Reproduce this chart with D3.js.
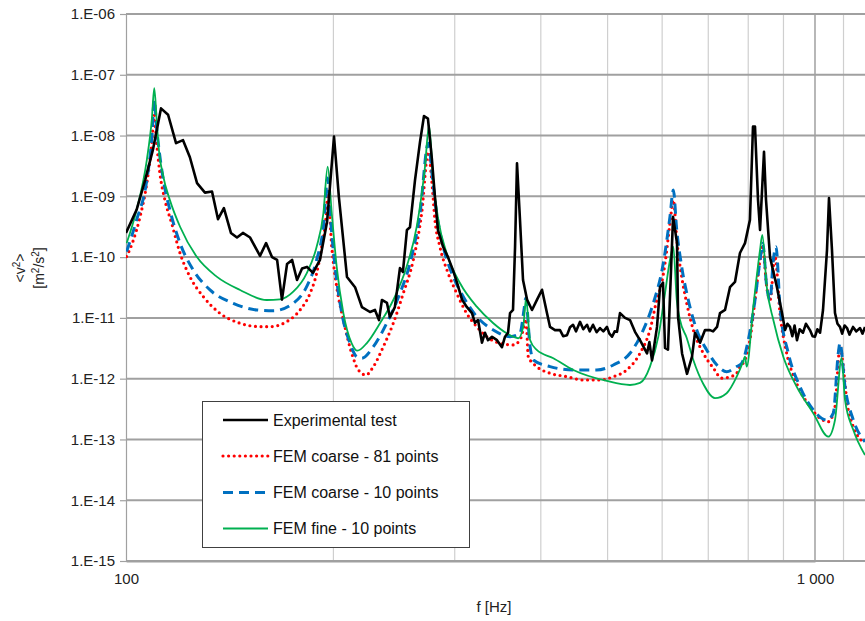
<!DOCTYPE html>
<html>
<head>
<meta charset="utf-8">
<script src="https://cdn.jsdelivr.net/npm/d3@7/dist/d3.min.js"></script>
<style>
  html, body { margin: 0; padding: 0; background: #fff; }
  svg { display: block; font-family: "Liberation Sans", Arial, sans-serif; }
</style>
</head>
<body>
<svg id="chart" width="865" height="621"></svg>
<script>
// Frequency response of the mean square velocity <v²> — measurement vs. FEM models

// Experimental test
const expFreq = [100, 103.6, 106.6, 109.4, 112.4, 115.1, 118.2, 121.0, 123.8, 126.8, 130.2, 133.3, 136.0, 138.7, 142.0, 144.9, 147.8, 151.4, 156.5, 159.7, 162.9, 165.7, 168.4, 171.3, 174.2, 177.1, 180.1, 183.1, 186.8, 191.2, 195.8, 200.4, 203.7, 209.3, 215.0, 220.0, 226.0, 229.8, 232.9, 235.2, 239.2, 241.6, 245.6, 249.8, 252.3, 255.7, 258.3, 262.7, 267.1, 270.7, 274.3, 278.0, 280.8, 283.6, 288.4, 293.3, 298.2, 302.3, 307.4, 312.5, 317.8, 321.0, 324.3, 328.6, 331.9, 335.3, 339.8, 345.5, 351.3, 354.9, 358.5, 360.9, 364.5, 367.0, 369.4, 373.1, 376.9, 382.0, 388.4, 395.0, 401.6, 408.3, 412.5, 419.4, 426.5, 431, 436.6, 441, 445.5, 450, 456.0, 461, 466.8, 471, 476.2, 482, 487.5, 493, 499.0, 503, 507.5, 512, 516.0, 521.2, 530.0, 538.9, 548.0, 557.2, 570.4, 575, 580.0, 589.8, 595.7, 601.7, 605.8, 611.8, 620.2, 622.3, 630.6, 632.8, 641.3, 652.0, 663.0, 669.7, 681.0, 692.4, 704.1, 711.3, 720.8, 728.0, 740.3, 752.7, 765.4, 778.2, 791.4, 804.6, 812.8, 818.3, 826.6, 832.2, 843.3, 849.0, 860.4, 880.6, 895.6, 904.7, 912, 919.8, 927, 934, 941.6, 950, 960.7, 970, 983.3, 992, 1000, 1008, 1017, 1027.1, 1040.9, 1047.9, 1058.4, 1069.1, 1078, 1087.1, 1095, 1104, 1113, 1122, 1135.5, 1148, 1162.4, 1172, 1182];
const expVal = [2.5e-10, 6.0e-10, 1.85e-9, 5.8e-9, 2.8e-8, 2.2e-8, 7.5e-9, 8.4e-9, 4.4e-9, 1.65e-9, 1.15e-9, 1.2e-9, 4.2e-10, 6.4e-10, 2.5e-10, 2.1e-10, 2.5e-10, 2.1e-10, 1.05e-10, 1.7e-10, 1.0e-10, 9.0e-11, 2.0e-11, 7.7e-11, 9.0e-11, 4.2e-11, 6.5e-11, 6.9e-11, 5.5e-11, 9.0e-11, 3.8e-10, 9.6e-9, 9.7e-10, 4.7e-11, 3.2e-11, 1.5e-11, 1.25e-11, 1.35e-11, 9.2e-12, 1.97e-11, 1.76e-11, 1.03e-11, 1.5e-11, 6.6e-11, 5.7e-11, 2.8e-10, 3.1e-10, 1.85e-9, 7.8e-9, 2.1e-8, 1.9e-8, 4.0e-9, 9.7e-10, 2.8e-10, 1.5e-10, 1.0e-10, 6.1e-11, 3.8e-11, 2.0e-11, 1.5e-11, 1.2e-11, 8.3e-12, 9.2e-12, 3.9e-12, 5.7e-12, 4.3e-12, 4.9e-12, 4.3e-12, 3.3e-12, 4.9e-12, 5.7e-12, 1.2e-11, 1.35e-11, 1.47e-10, 3.5e-9, 4.1e-10, 4.2e-11, 2.0e-11, 1.35e-11, 2.0e-11, 2.9e-11, 1.2e-11, 7.1e-12, 6.3e-12, 6.3e-12, 5.0e-12, 5.2e-12, 7.0e-12, 7.7e-12, 6.0e-12, 8.6e-12, 6.5e-12, 7.7e-12, 6.0e-12, 7.7e-12, 5.8e-12, 6.8e-12, 6.0e-12, 7.1e-12, 5.5e-12, 4.9e-12, 6.0e-12, 5.9e-12, 1.2e-11, 1.0e-11, 9.2e-12, 5.9e-12, 4.3e-12, 2.6e-12, 4.0e-12, 2.0e-12, 7.1e-12, 3.2e-11, 3.8e-11, 3.2e-12, 3.0e-12, 1.7e-10, 4.6e-10, 1.7e-10, 1.03e-11, 2.6e-12, 1.2e-12, 2.3e-12, 5.7e-12, 3.9e-12, 6.3e-12, 6.3e-12, 6.0e-12, 7.1e-12, 1.2e-11, 1.35e-11, 3.2e-11, 3.9e-11, 1.17e-10, 1.7e-10, 4.1e-10, 1.4e-8, 1.4e-8, 8.7e-10, 2.8e-10, 5.4e-9, 8.7e-10, 1.0e-10, 3.2e-11, 1.2e-11, 6.3e-12, 8.0e-12, 7.1e-12, 5.0e-12, 7.5e-12, 4.3e-12, 6.5e-12, 5.7e-12, 8.0e-12, 6.3e-12, 5.0e-12, 4.9e-12, 6.5e-12, 5.7e-12, 1.35e-11, 1.3e-10, 9.4e-10, 1.3e-10, 1.2e-11, 8.0e-12, 7.1e-12, 5.5e-12, 7.5e-12, 6.8e-12, 5.3e-12, 7.1e-12, 6.0e-12, 6.8e-12, 5.5e-12, 7.1e-12];

// FEM coarse - 81 points
const coarse81Freq = [100.2, 102.5, 104.8, 107.2, 109.0, 109.9, 110.8, 112.0, 113.9, 116.5, 119.8, 123.8, 129.5, 136.9, 146.4, 156.5, 161.8, 171.1, 178.9, 185.0, 189.1, 192.3, 195.6, 196.2, 198.9, 202.2, 206.8, 212.6, 217.4, 223.0, 228.6, 236.3, 244.3, 252.6, 261.2, 268.6, 274.6, 277.8, 280.8, 285.5, 293.5, 302.0, 312.2, 322.9, 333.8, 349.0, 364.8, 373.1, 378.1, 380.7, 383.6, 394.6, 412.5, 436.1, 461.0, 487.5, 509.7, 533.0, 557.2, 576.1, 589.3, 599.1, 605.8, 615.9, 622.8, 630.8, 640.5, 651.4, 665.9, 688.5, 711.8, 732.1, 752.7, 769.8, 778.2, 791.4, 804.6, 818.3, 832.2, 839.7, 851.0, 860.4, 874.9, 889.6, 909.7, 940.5, 983.3, 1017, 1045.5, 1069.1, 1087.1, 1099.1, 1111.9, 1136.6, 1181.9];
const coarse81Val = [1.02e-10, 1.91e-10, 4.6e-10, 1.64e-9, 7.45e-9, 2.18e-8, 7.45e-9, 2.39e-9, 8.66e-10, 3.6e-10, 1.16e-10, 4.77e-11, 2.23e-11, 1.19e-11, 8.17e-12, 7.18e-12, 7.18e-12, 8.67e-12, 1.35e-11, 2.54e-11, 5.42e-11, 1.48e-10, 6.75e-10, 1.25e-9, 1.48e-10, 3.27e-11, 9.24e-12, 2.62e-12, 1.39e-12, 1.15e-12, 1.58e-12, 3.36e-12, 8.17e-12, 2.54e-11, 8.97e-11, 5.26e-10, 5.42e-9, 1.85e-9, 4.08e-10, 1.48e-10, 5.42e-11, 2.54e-11, 1.19e-11, 7.18e-12, 4.91e-12, 3.82e-12, 3.59e-12, 4.33e-12, 7.18e-12, 9.5e-12, 2.30e-12, 1.58e-12, 1.23e-12, 1.08e-12, 9.5e-13, 9.5e-13, 1.08e-12, 1.39e-12, 2.62e-12, 6.33e-12, 1.97e-11, 3.75e-11, 7.9e-11, 3.6e-10, 8.66e-10, 1.69e-10, 4.77e-11, 1.74e-11, 6.33e-12, 2.62e-12, 1.5e-12, 1.02e-12, 1.07e-12, 1.23e-12, 1.58e-12, 2.03e-12, 4.33e-12, 1.97e-11, 8.97e-11, 1.48e-10, 3.27e-11, 1.97e-11, 1.02e-10, 1.19e-11, 2.62e-12, 8.42e-13, 3.46e-13, 2.23e-13, 1.96e-13, 3.46e-13, 3.36e-12, 1.58e-12, 4.46e-13, 1.62e-13, 8.64e-14];

// FEM coarse - 10 points
const coarse10Freq = [100.2, 103.6, 107.2, 109.0, 109.9, 110.8, 111.4, 113.3, 115.8, 119.8, 125.2, 132.4, 143.1, 154.8, 163.6, 174.9, 182.9, 189.1, 193.4, 196.2, 197.8, 201.1, 205.7, 211.4, 216.2, 219.8, 228.6, 239.0, 249.8, 258.3, 267.1, 274.6, 278.7, 282.4, 288.7, 298.5, 308.7, 322.9, 341.3, 360.9, 373.1, 378.1, 380.3, 385.9, 390.1, 412.5, 445.9, 482.2, 509.7, 538.9, 563.4, 582.5, 602.3, 615.9, 622.8, 630.0, 640.5, 654.8, 673.5, 696.3, 723.9, 744.3, 769.8, 782.7, 800.2, 818.3, 832.2, 839.7, 851.0, 860.4, 870.0, 877.8, 889.6, 914.7, 951.0, 994.3, 1039.9, 1063.0, 1080.9, 1087.1, 1105.4, 1136.6, 1181.9];
const coarse10Val = [1.23e-10, 4.08e-10, 1.85e-9, 9.1e-9, 3.85e-8, 1.33e-8, 7.45e-9, 1.85e-9, 5.96e-10, 1.69e-10, 6.14e-11, 2.88e-11, 1.74e-11, 1.35e-11, 1.31e-11, 1.74e-11, 3.27e-11, 8.97e-11, 3.16e-10, 2.0e-9, 5.26e-10, 6.95e-11, 1.19e-11, 3.82e-12, 2.30e-12, 2.17e-12, 3.36e-12, 8.17e-12, 2.54e-11, 7.9e-11, 5.26e-10, 7.45e-9, 1.85e-9, 5.26e-10, 1.48e-10, 4.77e-11, 2.23e-11, 1.05e-11, 6.33e-12, 4.91e-12, 5.58e-12, 1.35e-11, 2.10e-11, 3.36e-12, 2.03e-12, 1.58e-12, 1.39e-12, 1.39e-12, 1.68e-12, 2.62e-12, 6.33e-12, 1.74e-11, 7.9e-11, 4.62e-10, 1.27e-9, 2.79e-10, 6.95e-11, 1.97e-11, 6.33e-12, 2.97e-12, 1.58e-12, 1.30e-12, 1.58e-12, 1.79e-12, 4.33e-12, 1.97e-11, 8.97e-11, 1.69e-10, 3.27e-11, 1.97e-11, 8.97e-11, 1.48e-10, 1.53e-11, 2.62e-12, 7.4e-13, 3.06e-13, 2.09e-13, 2.70e-13, 2.62e-12, 3.86e-12, 7.4e-13, 2.09e-13, 9.17e-14];

// FEM fine - 10 points
const fineFreq = [100.2, 103.6, 107.2, 109.0, 109.9, 110.8, 111.4, 113.3, 115.8, 119.8, 126.6, 135.4, 146.4, 160.0, 167.3, 174.9, 182.9, 189.1, 193.4, 196.2, 198.9, 202.2, 206.8, 212.6, 216.7, 223.5, 233.7, 244.3, 255.4, 264.2, 271.6, 275.3, 279.2, 284.0, 292.0, 305.4, 322.9, 341.3, 356.9, 371.0, 377.2, 380.7, 385.9, 394.6, 417.1, 445.9, 498.6, 538.9, 557.2, 576.1, 592.4, 605.8, 615.9, 622.8, 630.0, 636.9, 651.4, 665.9, 688.5, 715.9, 744.3, 769.8, 786.1, 791.4, 795.9, 813.6, 832.2, 838.5, 851.0, 870.0, 899.5, 940.5, 994.3, 1045.5, 1069.1, 1093.2, 1105.4, 1136.6, 1181.9];
const fineVal = [1.69e-10, 5.96e-10, 3.96e-9, 1.81e-8, 6.0e-8, 1.81e-8, 7.45e-9, 2.10e-9, 8.66e-10, 3.16e-10, 1.02e-10, 4.77e-11, 2.88e-11, 1.97e-11, 2.02e-11, 2.70e-11, 5.42e-11, 1.48e-10, 5.26e-10, 3.09e-9, 5.26e-10, 6.95e-11, 1.19e-11, 3.82e-12, 2.89e-12, 3.82e-12, 8.17e-12, 1.97e-11, 6.95e-11, 3.16e-10, 3.07e-9, 1.47e-8, 1.85e-9, 4.08e-10, 1.16e-10, 3.71e-11, 1.53e-11, 8.17e-12, 5.58e-12, 4.62e-12, 7.18e-12, 2.10e-11, 4.33e-12, 2.97e-12, 2.17e-12, 1.39e-12, 9.17e-13, 7.87e-13, 8.5e-13, 1.58e-12, 4.91e-12, 2.54e-11, 8.97e-11, 1.48e-10, 1.97e-11, 9.24e-12, 4.68e-12, 2.03e-12, 8.17e-13, 4.77e-13, 5.76e-13, 1.08e-12, 1.88e-12, 2.30e-12, 1.58e-12, 1.53e-11, 1.31e-10, 2.31e-10, 3.27e-11, 9.24e-12, 2.30e-12, 7.4e-13, 2.70e-13, 1.11e-13, 2.09e-13, 2.19e-12, 4.46e-13, 1.43e-13, 5.55e-14];

// Axes
const yTickValues = [1e-6, 1e-7, 1e-8, 1e-9, 1e-10, 1e-11, 1e-12, 1e-13, 1e-14, 1e-15];
const yTickLabels = ["1.E-06", "1.E-07", "1.E-08", "1.E-09", "1.E-10", "1.E-11", "1.E-12", "1.E-13", "1.E-14", "1.E-15"];
const xGridValues = [200, 300, 400, 500, 600, 700, 800, 900, 1100, 1200];
const xTickValues = [100, 1000];
const xTickLabels = ["100", "1 000"];

const seriesNames = ["Experimental test", "FEM coarse - 81 points", "FEM coarse - 10 points", "FEM fine - 10 points"];

const svg = d3.select("#chart");
const W = 865, H = 621;
const plot = { left: 126, top: 14, right: 865, bottom: 561 };

const x = d3.scaleLog().domain([100, 1000]).range([plot.left, 815]);
const y = d3.scaleLog().domain([1e-15, 1e-6]).range([plot.bottom, plot.top]);

// clip region for the curves
svg.append("defs").append("clipPath").attr("id", "plotClip")
  .append("rect")
  .attr("x", plot.left).attr("y", plot.top)
  .attr("width", plot.right - plot.left).attr("height", plot.bottom - plot.top);

// vertical grid
const gridV = svg.append("g");
gridV.selectAll("line.minor").data(xGridValues.filter(v => x(v) <= W)).join("line")
  .attr("x1", d => x(d)).attr("x2", d => x(d))
  .attr("y1", plot.top).attr("y2", plot.bottom)
  .attr("stroke", "#cfcfcf").attr("stroke-width", 1.2);
gridV.append("line")
  .attr("x1", x(1000)).attr("x2", x(1000))
  .attr("y1", plot.top).attr("y2", plot.bottom)
  .attr("stroke", "#a6a6a6").attr("stroke-width", 1.6);

// horizontal grid
svg.append("g").selectAll("line").data(yTickValues).join("line")
  .attr("x1", plot.left).attr("x2", plot.right)
  .attr("y1", d => y(d)).attr("y2", d => y(d))
  .attr("stroke", "#a0a0a0").attr("stroke-width", 2);

// y axis
const yAxis = d3.axisLeft(y).tickValues(yTickValues)
  .tickFormat((d, i) => yTickLabels[i]).tickSize(6).tickPadding(5);
const gy = svg.append("g").attr("transform", `translate(${plot.left},0)`).call(yAxis);
gy.select(".domain").attr("stroke", "#a0a0a0").attr("stroke-width", 1.2);
gy.selectAll(".tick line").attr("stroke", "#a0a0a0").attr("stroke-width", 1.2);
gy.selectAll(".tick text").attr("fill", "#222").style("font-size", "15px")
  .style("font-family", "'Liberation Sans', Arial, sans-serif");

// x axis
const xAxis = d3.axisBottom(x).tickValues(xTickValues)
  .tickFormat((d, i) => xTickLabels[i]).tickSize(0).tickPadding(12);
const gx = svg.append("g").attr("transform", `translate(0,${plot.bottom})`).call(xAxis);
gx.select(".domain").attr("stroke", "#a0a0a0").attr("stroke-width", 2.2);
gx.selectAll(".tick text").attr("fill", "#222").style("font-size", "15px")
  .style("font-family", "'Liberation Sans', Arial, sans-serif");

// axis titles
svg.append("text").attr("x", 494).attr("y", 612).attr("text-anchor", "middle")
  .attr("fill", "#222").style("font-size", "15px").text("f [Hz]");

const yTitle = svg.append("g").attr("transform", "translate(0,268) rotate(-90)");
const t1 = yTitle.append("text").attr("x", 0).attr("y", 25).attr("text-anchor", "middle")
  .attr("fill", "#222").style("font-size", "14px");
t1.append("tspan").text("<v");
t1.append("tspan").attr("dy", -5).style("font-size", "10px").text("2");
t1.append("tspan").attr("dy", 5).text(">");
const t2 = yTitle.append("text").attr("x", 0).attr("y", 44).attr("text-anchor", "middle")
  .attr("fill", "#222").style("font-size", "14px");
t2.append("tspan").text("[m");
t2.append("tspan").attr("dy", -5).style("font-size", "10px").text("2");
t2.append("tspan").attr("dy", 5).text("/s");
t2.append("tspan").attr("dy", -5).style("font-size", "10px").text("2");
t2.append("tspan").attr("dy", 5).text("]");

// series
const zip = (fs, vs) => fs.map((f, i) => ({ f, v: vs[i] }));
const styles = [
  { data: zip(expFreq, expVal), color: "#000000", width: 2.6, dash: null, cap: "butt", curve: d3.curveLinear },
  { data: zip(coarse81Freq, coarse81Val), color: "#ff0000", width: 3.2, dash: "0 5.6", cap: "round", curve: d3.curveMonotoneX },
  { data: zip(coarse10Freq, coarse10Val), color: "#0070c0", width: 3, dash: "10 6", cap: "butt", curve: d3.curveMonotoneX },
  { data: zip(fineFreq, fineVal), color: "#00b050", width: 1.8, dash: null, cap: "butt", curve: d3.curveMonotoneX }
];

const curves = svg.append("g").attr("clip-path", "url(#plotClip)");
// draw order: FEM curves first, experimental line on top
[1, 2, 3, 0].forEach(i => {
  const s = styles[i];
  const line = d3.line().x(d => x(d.f)).y(d => y(d.v)).curve(s.curve);
  curves.append("path").datum(s.data)
    .attr("d", line)
    .attr("fill", "none")
    .attr("stroke", s.color)
    .attr("stroke-width", s.width)
    .attr("stroke-linejoin", "round")
    .attr("stroke-linecap", s.cap)
    .attr("stroke-dasharray", s.dash);
});

// legend
const lg = svg.append("g");
lg.append("rect").attr("x", 202.5).attr("y", 401.5).attr("width", 267).attr("height", 146)
  .attr("fill", "#fff").attr("stroke", "#404040").attr("stroke-width", 1);
const rowY = [420, 456, 492.5, 528.5];
styles.forEach((s, i) => {
  lg.append("line").attr("x1", 223).attr("x2", 268)
    .attr("y1", rowY[i]).attr("y2", rowY[i])
    .attr("stroke", s.color).attr("stroke-width", s.width)
    .attr("stroke-linecap", s.cap).attr("stroke-dasharray", s.dash);
  lg.append("text").attr("x", 273).attr("y", rowY[i]).attr("dy", "0.35em")
    .attr("fill", "#111").style("font-size", "16px").text(seriesNames[i]);
});
</script>
</body>
</html>
